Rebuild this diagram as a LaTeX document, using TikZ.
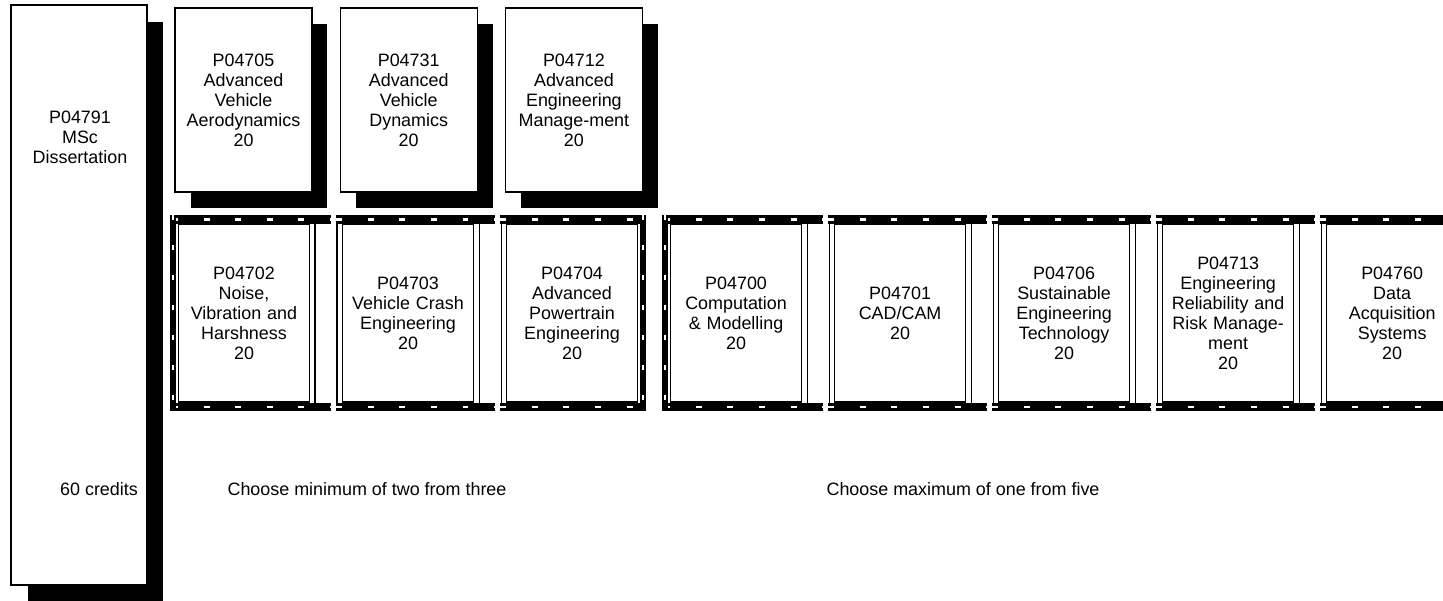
\documentclass[tikz,border=0pt]{standalone}
\usepackage{fontspec}
\setmainfont{Liberation Sans}
\usetikzlibrary{positioning,shadows,calc}

\begin{document}
\begin{tikzpicture}[x=0.02cm,y=-0.02cm,
  every node/.style={font=\fontsize{10.2}{11.4}\selectfont,align=center},
  blackshadow/.style={drop shadow={shadow xshift=0.31cm,shadow yshift=-0.32cm,fill=black,opacity=1}},
  bigbox/.style={draw,fill=white,line width=0.7pt,minimum width=2.72cm,minimum height=11.6cm,
    drop shadow={shadow xshift=0.33cm,shadow yshift=-0.33cm,fill=black,opacity=1}},
  coremod/.style={draw,fill=white,line width=0.7pt,blackshadow,text width=2.45cm,inner sep=1pt,
    minimum width=2.74cm,minimum height=3.68cm},
  optmod/.style={draw,fill=white,line width=0.6pt,text width=2.4cm,inner sep=1pt,
    minimum width=2.62cm,minimum height=3.56cm},
  dframe/.style={line width=0.6pt},
  band/.style={line width=4.6pt,postaction={draw=white,line width=1.5pt,dash pattern=on 3.4pt off 14.6pt}},
  dside/.style={line width=3.2pt,postaction={draw=white,line width=1.1pt,dash pattern=on 2.8pt off 14.2pt}}]
\useasboundingbox (0,0) rectangle (1443,601);

% dissertation
\node[bigbox] (m04791) at (79,295) {};
\node (diss) at (80,137) {P04791\\MSc\\Dissertation};
\node (cred) at (99,489) {60 credits};

% core modules
\node[coremod] (m04705) at (243.5,100) {P04705\\Advanced\\Vehicle\\Aerodynamics\\20};
\node[coremod,right=0.54cm of m04705] (m04731) {P04731\\Advanced\\Vehicle\\Dynamics\\20};
\node[coremod,right=0.54cm of m04731] (m04712) {P04712\\Advanced\\Engineering\\Manage-ment\\20};

% option modules
\node[optmod] (m04702) at (244,313) {P04702\\Noise,\\Vibration and\\Harshness\\20};
\node[optmod,right=0.64cm of m04702] (m04703) {P04703\\Vehicle Crash\\Engineering\\20};
\node[optmod,right=0.64cm of m04703] (m04704) {P04704\\Advanced\\Powertrain\\Engineering\\20};
\node[optmod,right=0.64cm of m04704] (m04700) {P04700\\Computation\\\& Modelling\\20};
\node[optmod,right=0.64cm of m04700] (m04701) {P04701\\CAD/CAM\\20};
\node[optmod,right=0.64cm of m04701] (m04706) {P04706\\Sustainable\\Engineering\\Technology\\20};
\node[optmod,right=0.64cm of m04706] (m04713) {P04713\\Engineering\\Reliability and\\Risk Manage-\\ment\\20};
\node[optmod,right=0.64cm of m04713] (m04760) {P04760\\Data\\Acquisition\\Systems\\20};

\foreach \m/\ext in {m04702/21,m04703/21,m04704/8,m04700/21,m04701/21,m04706/21,m04713/21,m04760/21} {
  \draw[dframe] ($(\m.north west)+(-5,-3)$) rectangle ($(\m.south east)+(5,3)$);
  \draw[band] ($(\m.north west)+(-6,-4)$) -- ($(\m.north east)+(\ext,-4)$);
  \draw[band] ($(\m.south west)+(-6,4.5)$) -- ($(\m.south east)+(\ext,4.5)$);
}
\foreach \m/\dx/\s in {m04702/-5/west,m04704/5/east,m04700/-5/west}
  \draw[dside] ($(\m.north \s)+(\dx,-8)$) -- ($(\m.south \s)+(\dx,8.5)$);

\node (min2) at (367,489) {Choose minimum of two from three};
\node (max1) at (963,489) {Choose maximum of one from five};
\end{tikzpicture}
\end{document}
